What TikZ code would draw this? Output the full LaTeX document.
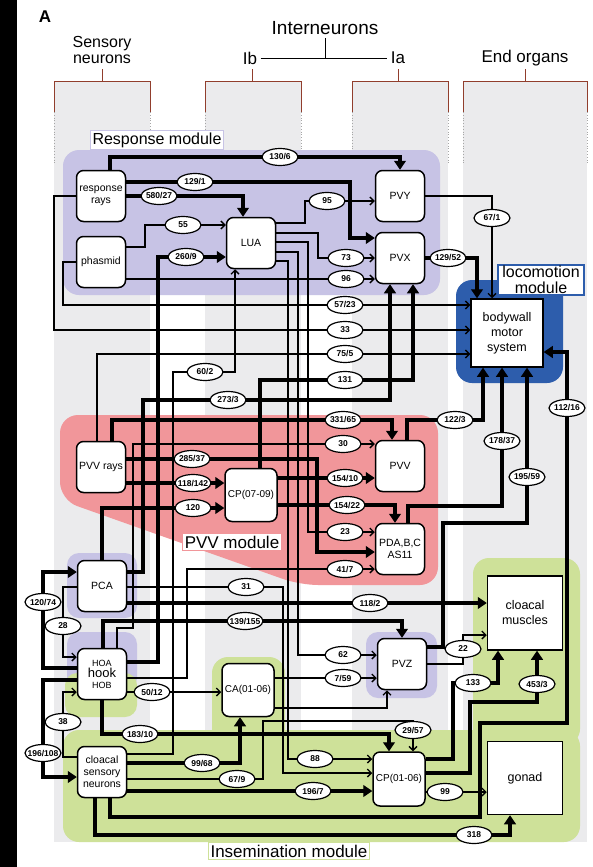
\documentclass[tikz,border=0pt]{standalone}
\usepackage{fontspec}
\setmainfont{Liberation Sans}
\usetikzlibrary{arrows.meta,shapes.geometric}
\definecolor{respcol}{RGB}{199,195,229}
\definecolor{pvvcol}{RGB}{241,150,154}
\definecolor{lococol}{RGB}{45,93,172}
\definecolor{insemcol}{RGB}{206,225,153}
\definecolor{colgray}{RGB}{235,235,237}
\definecolor{brack}{RGB}{145,62,45}
\pgfdeclarelayer{bg}
\pgfdeclarelayer{wire}
\pgfsetlayers{bg,wire,main}
\tikzset{
  cell/.style={draw,fill=white,rounded corners=7pt,line width=1.5pt,minimum width=49pt,minimum height=51pt,align=center,inner sep=1pt,font=\fontsize{10.5}{12}\selectfont},
  organ/.style={draw,fill=white,line width=1.5pt,minimum width=75pt,minimum height=74pt,align=center,font=\fontsize{12.5}{15}\selectfont},
  lab/.style={ellipse,draw,fill=white,line width=1.2pt,inner sep=0pt,minimum width=36pt,minimum height=17pt,font=\bfseries\fontsize{8.5}{9}\selectfont},
  sa/.style={line width=3.4pt,-{Triangle[width=12pt,length=9pt,line width=1pt]}},
  wa/.style={line width=1.3pt,-{Straight Barb[length=4pt,width=8pt]}},
  modlab/.style={draw,fill=white,line width=1.2pt,inner sep=2pt}
}
\begin{document}
\begin{tikzpicture}[x=1pt,y=-1pt]
\useasboundingbox (0,0) rectangle (592,867);
\begin{pgfonlayer}{bg}
\fill[white] (17,0) rectangle (592,867);
\fill[black] (0,0) rectangle (17,867);
\foreach \a/\b/\c in {54/150/102,205/301/252,352/448/398,463/587/525}{
  \fill[colgray] (\a,81) rectangle (\b,842);
  \draw[brack,line width=0.9pt] (\a,112) -- (\a,81) -- (\b,81) -- (\b,112) (\c,81) -- (\c,69);
  \draw[gray!70,dotted,line width=0.8pt] (\a,112) -- (\a,165) (\b,112) -- (\b,165);
}
\fill[respcol,rounded corners=16pt] (63,150) rectangle (440,295);
\fill[pvvcol,rounded corners=18pt] (60,415) -- (438,415) -- (438,585) -- (300,585) -- (60,500) -- cycle;
\fill[lococol,rounded corners=16pt] (456,280) rectangle (563,383);
\fill[insemcol,rounded corners=16pt] (63,730) rectangle (580,842);
\fill[insemcol,rounded corners=16pt] (212,657) rectangle (285,745);
\fill[insemcol,rounded corners=16pt] (473,558) rectangle (580,745);
\fill[respcol,rounded corners=12pt] (67,553) rectangle (137,618);
\fill[respcol,rounded corners=12pt] (67,632) rectangle (137,690);
\fill[insemcol,rounded corners=12pt] (65,673) rectangle (137,717);
\fill[respcol,rounded corners=12pt] (366,632) rectangle (437,698);
\end{pgfonlayer}
\node[font=\bfseries\fontsize{17}{18}\selectfont] (A) at (45,17) {A};
\node[font=\fontsize{19}{21}\selectfont] (inter) at (325,28) {Interneurons};
\node[align=center,font=\fontsize{16}{16}\selectfont] (sens) at (102,50) {Sensory\\neurons};
\node[font=\fontsize{17}{19}\selectfont] (Ib) at (250,58) {Ib};
\node[font=\fontsize{17}{19}\selectfont] (Ia) at (398,58) {Ia};
\node[font=\fontsize{17}{19}\selectfont] (endo) at (525,58) {End organs};
\draw[line width=0.9pt] (Ib.east) -- (Ia.west) (inter.south) -- (inter.south |- Ib);
\node[modlab,draw=respcol,font=\fontsize{16}{18}\selectfont] (resplab) at (157,140) {Response module};
\node[modlab,draw=pvvcol,font=\fontsize{17}{19}\selectfont] (pvvlab) at (232,542) {PVV module};
\node[modlab,draw=lococol,line width=2pt,inner xsep=4pt,inner ysep=1pt,align=center,font=\fontsize{16}{16.5}\selectfont] (locolab) at (541,280) {locomotion\\module};
\node[modlab,draw=insemcol,font=\fontsize{17}{19}\selectfont] (insemlab) at (289,851) {Insemination module};
\node[cell] (rays) at (101,196) {response\\rays};
\node[cell] (phasmid) at (101,262) {phasmid};
\node[cell] (LUA) at (251,243) {LUA};
\node[cell] (PVY) at (400,196) {PVY};
\node[cell] (PVX) at (400,258) {PVX};
\node[organ,minimum width=72pt,minimum height=68pt] (body) at (507,333) {bodywall\\motor\\system};
\node[cell] (pvvrays) at (101,467) {PVV rays};
\node[cell,minimum width=52pt,minimum height=53pt,font=\fontsize{10}{12}\selectfont] (CPa) at (251,495) {CP(07-09)};
\node[cell] (PVV) at (400,466) {PVV};
\node[cell] (PDA) at (400,549) {PDA,B,C\\AS11};
\node[cell] (PCA) at (102,586) {PCA};
\node[cell,font=\fontsize{9}{11}\selectfont] (hook) at (102,674) {HOA\\{\fontsize{13}{14}\selectfont hook}\\HOB};
\node[cell,minimum width=52pt,minimum height=53pt,font=\fontsize{10}{12}\selectfont] (CA) at (248,690) {CA(01-06)};
\node[cell] (csn) at (102,772) {cloacal\\sensory\\neurons};
\node[cell] (PVZ) at (402,664) {PVZ};
\node[organ] (muscles) at (525,613) {cloacal\\muscles};
\node[cell,minimum width=52pt,minimum height=54pt,font=\fontsize{10}{12}\selectfont] (CPb) at (399,779) {CP(01-06)};
\node[organ,minimum height=73pt] (gonad) at (525,778) {gonad};
\foreach \n/\txt/\x/\y in {l1306/{130/6}/280/157,l1291/{129/1}/195/182,l58027/{580/27}/159/196,
  l95/95/327/201,l55/55/183/225,l2609/{260/9}/186/257,l73/73/346/258,l96/96/346/279,
  l12952/{129/52}/448/258,l671/{67/1}/492/218,l5723/{57/23}/345/305,l33/33/345/330,
  l755/{75/5}/345/354,l131/131/345/380,l602/{60/2}/205/372,l2733/{273/3}/228/400,
  l33165/{331/65}/343/420,l30/30/343/444,l28537/{285/37}/192/459,l118142/{118/142}/193/483,
  l120/120/193/508,l15410/{154/10}/345/478,l15422/{154/22}/347/505,l23/23/345/532,
  l417/{41/7}/345/569,l1223/{122/3}/455/420,l17837/{178/37}/502/441,l19559/{195/59}/527/477,
  l11216/{112/16}/567/408,l31/31/246/587,l1182/{118/2}/370/603,l139155/{139/155}/245/621,
  l12074/{120/74}/43/602,l28/28/63/626,l62/62/343/655,l22/22/463/649,l759/{7/59}/343/678,
  l5012/{50/12}/152/692,l38/38/63/722,l2957/{29/57}/413/730,l18310/{183/10}/140/734,
  l196108/{196/108}/43/753,l9968/{99/68}/202/763,l679/{67/9}/237/779,l88/88/315/759,
  l133/133/473/683,l4533/{453/3}/537/684,l1967/{196/7}/313/791,l99/99/445/792,l318/318/474/835}
  \node[lab] (\n) at (\x,\y) {\makebox[0pt]{\txt}};
\begin{pgfonlayer}{wire}
\draw[sa] ([xshift=9pt]rays.north) |- (l1306.center) -| (PVY.north);
\draw[sa] ([yshift=14pt]rays.east) -- (l1291.center) -- (350,182) |- ([yshift=20pt]PVX.west);
\draw[sa] (rays.east) -- (l58027.center) -| ([xshift=-8pt]LUA.north);
\draw[wa] ([yshift=15pt]phasmid.east) -- (145,247) |- (l55.center) -- (l55 -| LUA.west);
\draw[sa] ([yshift=12pt]hook.east) -- (158,662) |- (l2609.center) -- (l2609 -| LUA.west);
\draw[wa] ([yshift=20pt]LUA.east) -- (305,223) |- (l95.center) -- (l95 -| PVY.west);
\draw[wa] ([yshift=10pt]LUA.east) -- (318,233) |- (l73.center) -- (l73 -| PVX.west);
\draw[wa] ([yshift=1pt]LUA.east) -- (308,242) |- (l23.center) -- (l23 -| PDA.west);
\draw[wa] ([yshift=-9pt]LUA.east) -- (298,252) |- (l62.center) -- (l62 -| PVZ.west);
\draw[wa] ([yshift=-18pt]LUA.east) -- (288,261) |- (l88.center) -- (l88 -| CPb.west);
\draw[wa] ([yshift=-17pt]phasmid.east) -- (l96.center) -- (l96 -| PVX.west);
\draw[sa] (PVX.east) -- (l12952.center) -| ([xshift=-30pt]body.north);
\draw[wa] (PVY.east) -| (l671.center) -- (l671 |- body.north);
\draw[wa] (phasmid.west) -- (63,262) |- (l5723.center) -- (l5723 -| body.west);
\draw[wa] (rays.west) -- (54,196) |- (l33.center) -- (l33 -| body.west);
\draw[wa] ([xshift=-4pt]pvvrays.north) |- (l755.center) -- (l755 -| body.west);
\draw[sa] ([xshift=9pt]CPa.north) |- (l131.center) -| ([xshift=13pt]PVX.south);
\draw[sa] ([yshift=14pt]PCA.east) -- (143,572) |- (l2733.center) -| ([xshift=-10pt]PVX.south);
\draw[wa] ([yshift=18pt]csn.east) -- (173,754) |- (l602.center) -| ([xshift=-16pt]LUA.south);
\draw[sa] ([xshift=11pt]pvvrays.north) |- (l33165.center) -| ([xshift=-8pt]PVV.north);
\draw[wa] ([xshift=15pt]hook.north) |- (133,628) |- (l30.center) -- (l30 -| PVV.west);
\draw[sa] ([yshift=8pt]pvvrays.east) -- (l28537.center) -- (317,459) |- ([yshift=-3pt]PDA.west);
\draw[sa] ([yshift=-16pt]pvvrays.east) -- (l118142.center) -- (l118142 -| CPa.west);
\draw[sa] (PCA.north) |- (l120.center) -- (l120 -| CPa.west);
\draw[sa] ([yshift=17pt]CPa.east) -- (l15410.center) -- (l15410 -| PVV.west);
\draw[sa] ([yshift=-10pt]CPa.east) -- (l15422.center) -| ([xshift=-5pt]PDA.north);
\draw[wa] ([yshift=-4pt]hook.east) -- (187,678) |- (l417.center) -- (l417 -| PDA.west);
\draw[sa] ([xshift=7pt]PVV.north) |- (l1223.center) -| ([xshift=-24pt]body.south);
\draw[sa] ([xshift=8pt]PDA.north) |- (502,506) -- (l17837.center) -- (l17837 |- body.south);
\draw[sa] ([yshift=17pt]PVZ.east) -| (443,523) -| (l19559.center) -- (l19559 |- body.south);
\draw[sa] ([xshift=8pt]csn.south) |- (480,817) |- (567,723) -- (l11216.center) |- ([yshift=-19pt]body.east);
\draw[wa] ([yshift=-1pt]PCA.east) -- (l31.center) -- (283,587) |- ([yshift=6pt]CPb.west);
\draw[sa] ([yshift=-17pt]PCA.east) -- (l1182.center) -- (l1182 -| muscles.west);
\draw[sa] ([xshift=1pt]hook.north) |- (l139155.center) -| (PVZ.north);
\draw[sa] ([yshift=6pt]hook.west) -| (l12074.center) |- ([yshift=14pt]PCA.west);
\draw[sa] ([yshift=-6pt]hook.west) -| (l196108.center) |- ([yshift=-5pt]csn.west);
\draw[wa] ([yshift=-1pt]PCA.west) -| (l28.center) |- ([yshift=17pt]hook.west);
\draw[wa] ([yshift=15pt]csn.west) -| (l38.center) |- ([yshift=-18pt]hook.west);
\draw[wa] ([yshift=-18pt]hook.east) -- (l5012.center) -- (l5012 -| CA.west);
\draw[wa] ([yshift=12pt]CA.east) -- (l759.center) -- (l759 -| PVZ.west);
\draw[wa] ([yshift=-18pt]CA.east) -| ([xshift=-15pt]PVZ.south);
\draw[wa] (PVZ.east) -| (l22.center) |- ([yshift=-22pt]muscles.west);
\draw[sa] (hook.south) |- (l18310.center) -| ([xshift=-10pt]CPb.north);
\draw[sa] ([yshift=9pt]csn.east) -- (l9968.center) -| ([xshift=-8pt]CA.south);
\draw[wa] ([yshift=-7pt]csn.east) -- (l679.center) -- (263,779) |- (413,721) -- (l2957.center) -- (l2957 |- CPb.north);
\draw[sa] ([yshift=-19pt]csn.east) -- (l1967.center) -- (l1967 -| CPb.west);
\draw[wa] ([yshift=-13pt]CPb.east) -- (l99.center) -- (l99 -| gonad.west);
\draw[sa] ([yshift=20pt]CPb.east) -| (453,683) -- (l133.center) -| ([xshift=-27pt]muscles.south);
\draw[sa] ([yshift=6pt]CPb.east) -| (470,702) -| (l4533.center) -- (l4533 |- muscles.south);
\draw[sa] ([xshift=-7pt]csn.south) |- (l318.center) -| ([xshift=-15pt]gonad.south);
\end{pgfonlayer}
\end{tikzpicture}
\end{document}
